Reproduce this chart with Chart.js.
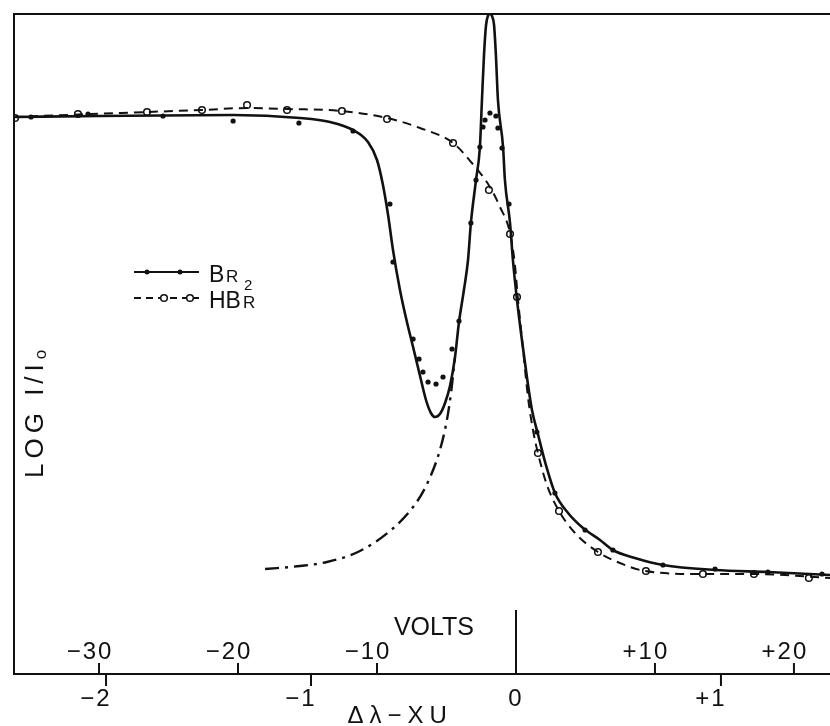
<!DOCTYPE html>
<html>
<head>
<meta charset="utf-8">
<script src="https://cdn.jsdelivr.net/npm/chart.js@4/dist/chart.umd.min.js"></script>
<style>
html,body{margin:0;padding:0;background:#fff;}
#wrap{width:830px;height:726px;position:relative;}
</style>
</head>
<body>
<div id="wrap"><canvas id="c" width="830" height="726"></canvas></div>
<script>
// ---- Data (x in XU = Δλ, y = relative LOG I/I0 units) ----
const br2CurveX = [-2.449,-2.029,-1.380,-1.054,-0.907,-0.795,-0.722,-0.678,-0.649,-0.624,-0.600,-0.566,-0.532,-0.502,-0.468,-0.439,-0.415,-0.395,-0.371,-0.346,-0.322,-0.298,-0.278,-0.254,-0.234,-0.220,-0.195,-0.176,-0.166,-0.156,-0.146,-0.137,-0.127,-0.117,-0.107,-0.098,-0.088,-0.063,-0.054,-0.029,-0.015,0.005,0.029,0.054,0.078,0.107,0.146,0.190,0.254,0.327,0.410,0.473,0.580,0.717,0.971,1.229,1.532];
const br2CurveY = [55.7,55.8,55.9,55.6,55.2,54.4,53.2,51.4,48.9,45.9,42.4,38.4,35.2,32.7,29.8,27.4,26.1,25.7,26.0,27.1,28.8,31.6,35.2,38.4,41.4,45.1,49.4,52.7,57.4,61.9,64.9,65.8,66.0,65.8,64.9,61.9,57.4,52.7,49.4,45.1,41.4,37.4,33.4,29.6,26.4,24.0,20.9,18.1,16.1,14.6,13.4,12.4,11.6,10.9,10.4,10.2,9.9];

const wingCurveX = [-1.224,-1.054,-0.922,-0.761,-0.615,-0.502,-0.434,-0.371,-0.337,-0.317,-0.298];
const wingCurveY = [10.5,10.8,11.2,12.3,14.3,16.7,19.0,22.4,25.4,28.1,31.6];

const hbrCurveX = [-2.449,-2.073,-1.800,-1.532,-1.312,-1.112,-0.849,-0.629,-0.468,-0.307,-0.215,-0.127,-0.078,-0.029,-0.005,0.010,0.029,0.059,0.083,0.107,0.151,0.210,0.288,0.400,0.507,0.629,0.912,1.166,1.532];
const hbrCurveY = [55.7,56.0,56.2,56.4,56.6,56.5,56.3,55.6,54.6,53.1,51.1,48.7,46.7,44.1,40.9,37.4,33.6,27.6,24.4,22.1,18.9,16.3,14.1,12.2,11.1,10.3,10.0,10.0,9.6];

const br2PointsX = [-2.366,-2.088,-1.722,-1.380,-1.059,-0.795,-0.615,-0.600,-0.502,-0.473,-0.454,-0.429,-0.390,-0.356,-0.312,-0.278,-0.220,-0.195,-0.176,-0.161,-0.151,-0.127,-0.098,-0.088,-0.068,-0.034,0.102,0.190,0.337,0.473,0.717,0.971,1.229,1.493];
const br2PointsY = [55.7,56.0,55.8,55.3,55.1,54.3,47.0,41.2,33.5,31.5,30.2,29.2,29.0,29.7,32.5,35.3,45.1,49.4,52.7,54.7,55.4,56.1,55.8,54.6,52.6,47.0,24.2,18.1,14.4,12.4,10.9,10.5,10.2,10.0];

const hbrPointsX = [-2.444,-2.137,-1.800,-1.532,-1.312,-1.117,-0.849,-0.629,-0.307,-0.132,-0.029,0.005,0.107,0.210,0.400,0.634,0.912,1.161,1.429];
const hbrPointsY = [55.6,56.0,56.2,56.4,56.9,56.4,56.3,55.5,53.1,48.4,44.0,37.7,22.1,16.3,12.2,10.3,10.0,10.0,9.6];

// ---- Axis ticks ----
const xuTicks = [-2,-1,0,1];
const xuTickLabels = ['\u22122','\u22121','0','+1'];
const voltTicks = [-30,-20,-10,0,10,20];
const voltTickLabels = ['\u221230','\u221220','\u221210','','+10','+20'];
const VOLTS_PER_XU = 14.748;
const X_MIN = -2.449, X_MAX = 1.532;

const zip = (xs, ys) => xs.map((x,i)=>({x, y: ys[i]}));
const FONT = '"Liberation Sans", Arial, sans-serif';

const axesPlugin = {
  id: 'axesPlugin',
  afterDraw(chart){
    const {ctx, chartArea:a} = chart;
    const sx = chart.scales.x, sv = chart.scales.xv;
    ctx.save();
    ctx.strokeStyle = '#111';
    ctx.fillStyle = '#111';
    ctx.lineWidth = 2;
    ctx.beginPath();
    ctx.moveTo(a.right, a.top); ctx.lineTo(a.left, a.top);
    ctx.lineTo(a.left, a.bottom); ctx.lineTo(a.right, a.bottom);
    ctx.stroke();
    // volts ticks (up)
    ctx.font = '24px ' + FONT;
    ctx.letterSpacing = '2px';
    ctx.textAlign = 'center'; ctx.textBaseline = 'middle';
    voltTicks.forEach((v,i)=>{
      const px = sv.getPixelForValue(v);
      const len = v === 0 ? 64 : 11;
      ctx.beginPath(); ctx.moveTo(px, a.bottom); ctx.lineTo(px, a.bottom - len); ctx.stroke();
      if (voltTickLabels[i]) ctx.fillText(voltTickLabels[i], px - 9, a.bottom - 22);
    });
    ctx.font = '25px ' + FONT;
    ctx.letterSpacing = '0px';
    ctx.fillText('VOLTS', sv.getPixelForValue(-5.9), a.bottom - 46);
    // XU ticks (down)
    ctx.font = '24px ' + FONT;
    ctx.letterSpacing = '2px';
    xuTicks.forEach((v,i)=>{
      const px = sx.getPixelForValue(v);
      if (v !== 0) { ctx.beginPath(); ctx.moveTo(px, a.bottom); ctx.lineTo(px, a.bottom + 12); ctx.stroke(); }
      ctx.fillText(xuTickLabels[i], v === 0 ? px : px - 10, a.bottom + 25);
    });
    ctx.letterSpacing = '6px';
    ctx.fillText('\u0394\u03bb\u2212XU', sx.getPixelForValue(-0.565), a.bottom + 42);
    // y title
    ctx.save();
    ctx.translate(a.left + 22, 478);
    ctx.rotate(-Math.PI/2);
    ctx.textAlign = 'left';
    ctx.font = '26px ' + FONT;
    ctx.letterSpacing = '5px';
    const t = 'LOG I/I';
    ctx.fillText(t, 0, 0);
    const w = ctx.measureText(t).width;
    ctx.font = '17px ' + FONT;
    ctx.letterSpacing = '0px';
    ctx.fillText('o', w, 5);
    ctx.restore();
    // legend
    ctx.letterSpacing = '0px';
    const ly1 = 272, ly2 = 298, lx0 = 134, lx1 = 199;
    ctx.lineWidth = 2;
    ctx.setLineDash([]);
    ctx.beginPath(); ctx.moveTo(lx0, ly1); ctx.lineTo(lx1, ly1); ctx.stroke();
    [147, 180].forEach(x=>{ ctx.beginPath(); ctx.arc(x, ly1, 2.5, 0, Math.PI*2); ctx.fill(); });
    ctx.setLineDash([7,5]);
    ctx.beginPath(); ctx.moveTo(lx0, ly2); ctx.lineTo(lx1, ly2); ctx.stroke();
    ctx.setLineDash([]);
    ctx.lineWidth = 1.5;
    [164, 190].forEach(x=>{ ctx.beginPath(); ctx.fillStyle='#fff'; ctx.arc(x, ly2, 3.3, 0, Math.PI*2); ctx.fill(); ctx.stroke(); });
    ctx.fillStyle = '#111';
    ctx.textAlign = 'left'; ctx.textBaseline = 'alphabetic';
    ctx.font = '23px ' + FONT;
    ctx.fillText('B', 209, ly1 + 10);
    ctx.font = '17px ' + FONT;
    ctx.fillText('R', 226, ly1 + 10);
    ctx.font = '15px ' + FONT;
    ctx.fillText('2', 244, ly1 + 18);
    ctx.font = '23px ' + FONT;
    ctx.fillText('HB', 209, ly2 + 10);
    const wh = ctx.measureText('HB').width;
    ctx.font = '17px ' + FONT;
    ctx.fillText('R', 209 + wh + 2, ly2 + 10);
    ctx.restore();
  }
};

new Chart(document.getElementById('c'), {
  type: 'scatter',
  data: {
    datasets: [
      { label: 'Br2 curve', data: zip(br2CurveX, br2CurveY), showLine: true, borderColor: '#111', borderWidth: 2.6, pointRadius: 0, cubicInterpolationMode: 'monotone', fill: false },
      { label: 'wing', data: zip(wingCurveX, wingCurveY), showLine: true, borderColor: '#111', borderWidth: 2.4, borderDash: [14,6,3,6], pointRadius: 0, cubicInterpolationMode: 'monotone', fill: false },
      { label: 'HBr curve', data: zip(hbrCurveX, hbrCurveY), showLine: true, borderColor: '#111', borderWidth: 2, borderDash: [9,6], pointRadius: 0, cubicInterpolationMode: 'monotone', fill: false },
      { label: 'Br2', data: zip(br2PointsX, br2PointsY), showLine: false, pointRadius: 2.6, pointBackgroundColor: '#111', pointBorderColor: '#111', pointBorderWidth: 0 },
      { label: 'HBr', data: zip(hbrPointsX, hbrPointsY), showLine: false, pointRadius: 3.3, pointBackgroundColor: '#fff', pointBorderColor: '#111', pointBorderWidth: 1.5 }
    ]
  },
  options: {
    responsive: false,
    animation: false,
    layout: { autoPadding: false, padding: { left: 14, top: 14, right: 0, bottom: 52 } },
    plugins: { legend: { display: false }, tooltip: { enabled: false } },
    scales: {
      x: { type: 'linear', display: false, min: X_MIN, max: X_MAX },
      xv: { type: 'linear', axis: 'x', display: false, min: X_MIN * VOLTS_PER_XU, max: X_MAX * VOLTS_PER_XU },
      y: { type: 'linear', display: false, min: 0, max: 66 }
    }
  },
  plugins: [axesPlugin]
});
</script>
</body>
</html>
